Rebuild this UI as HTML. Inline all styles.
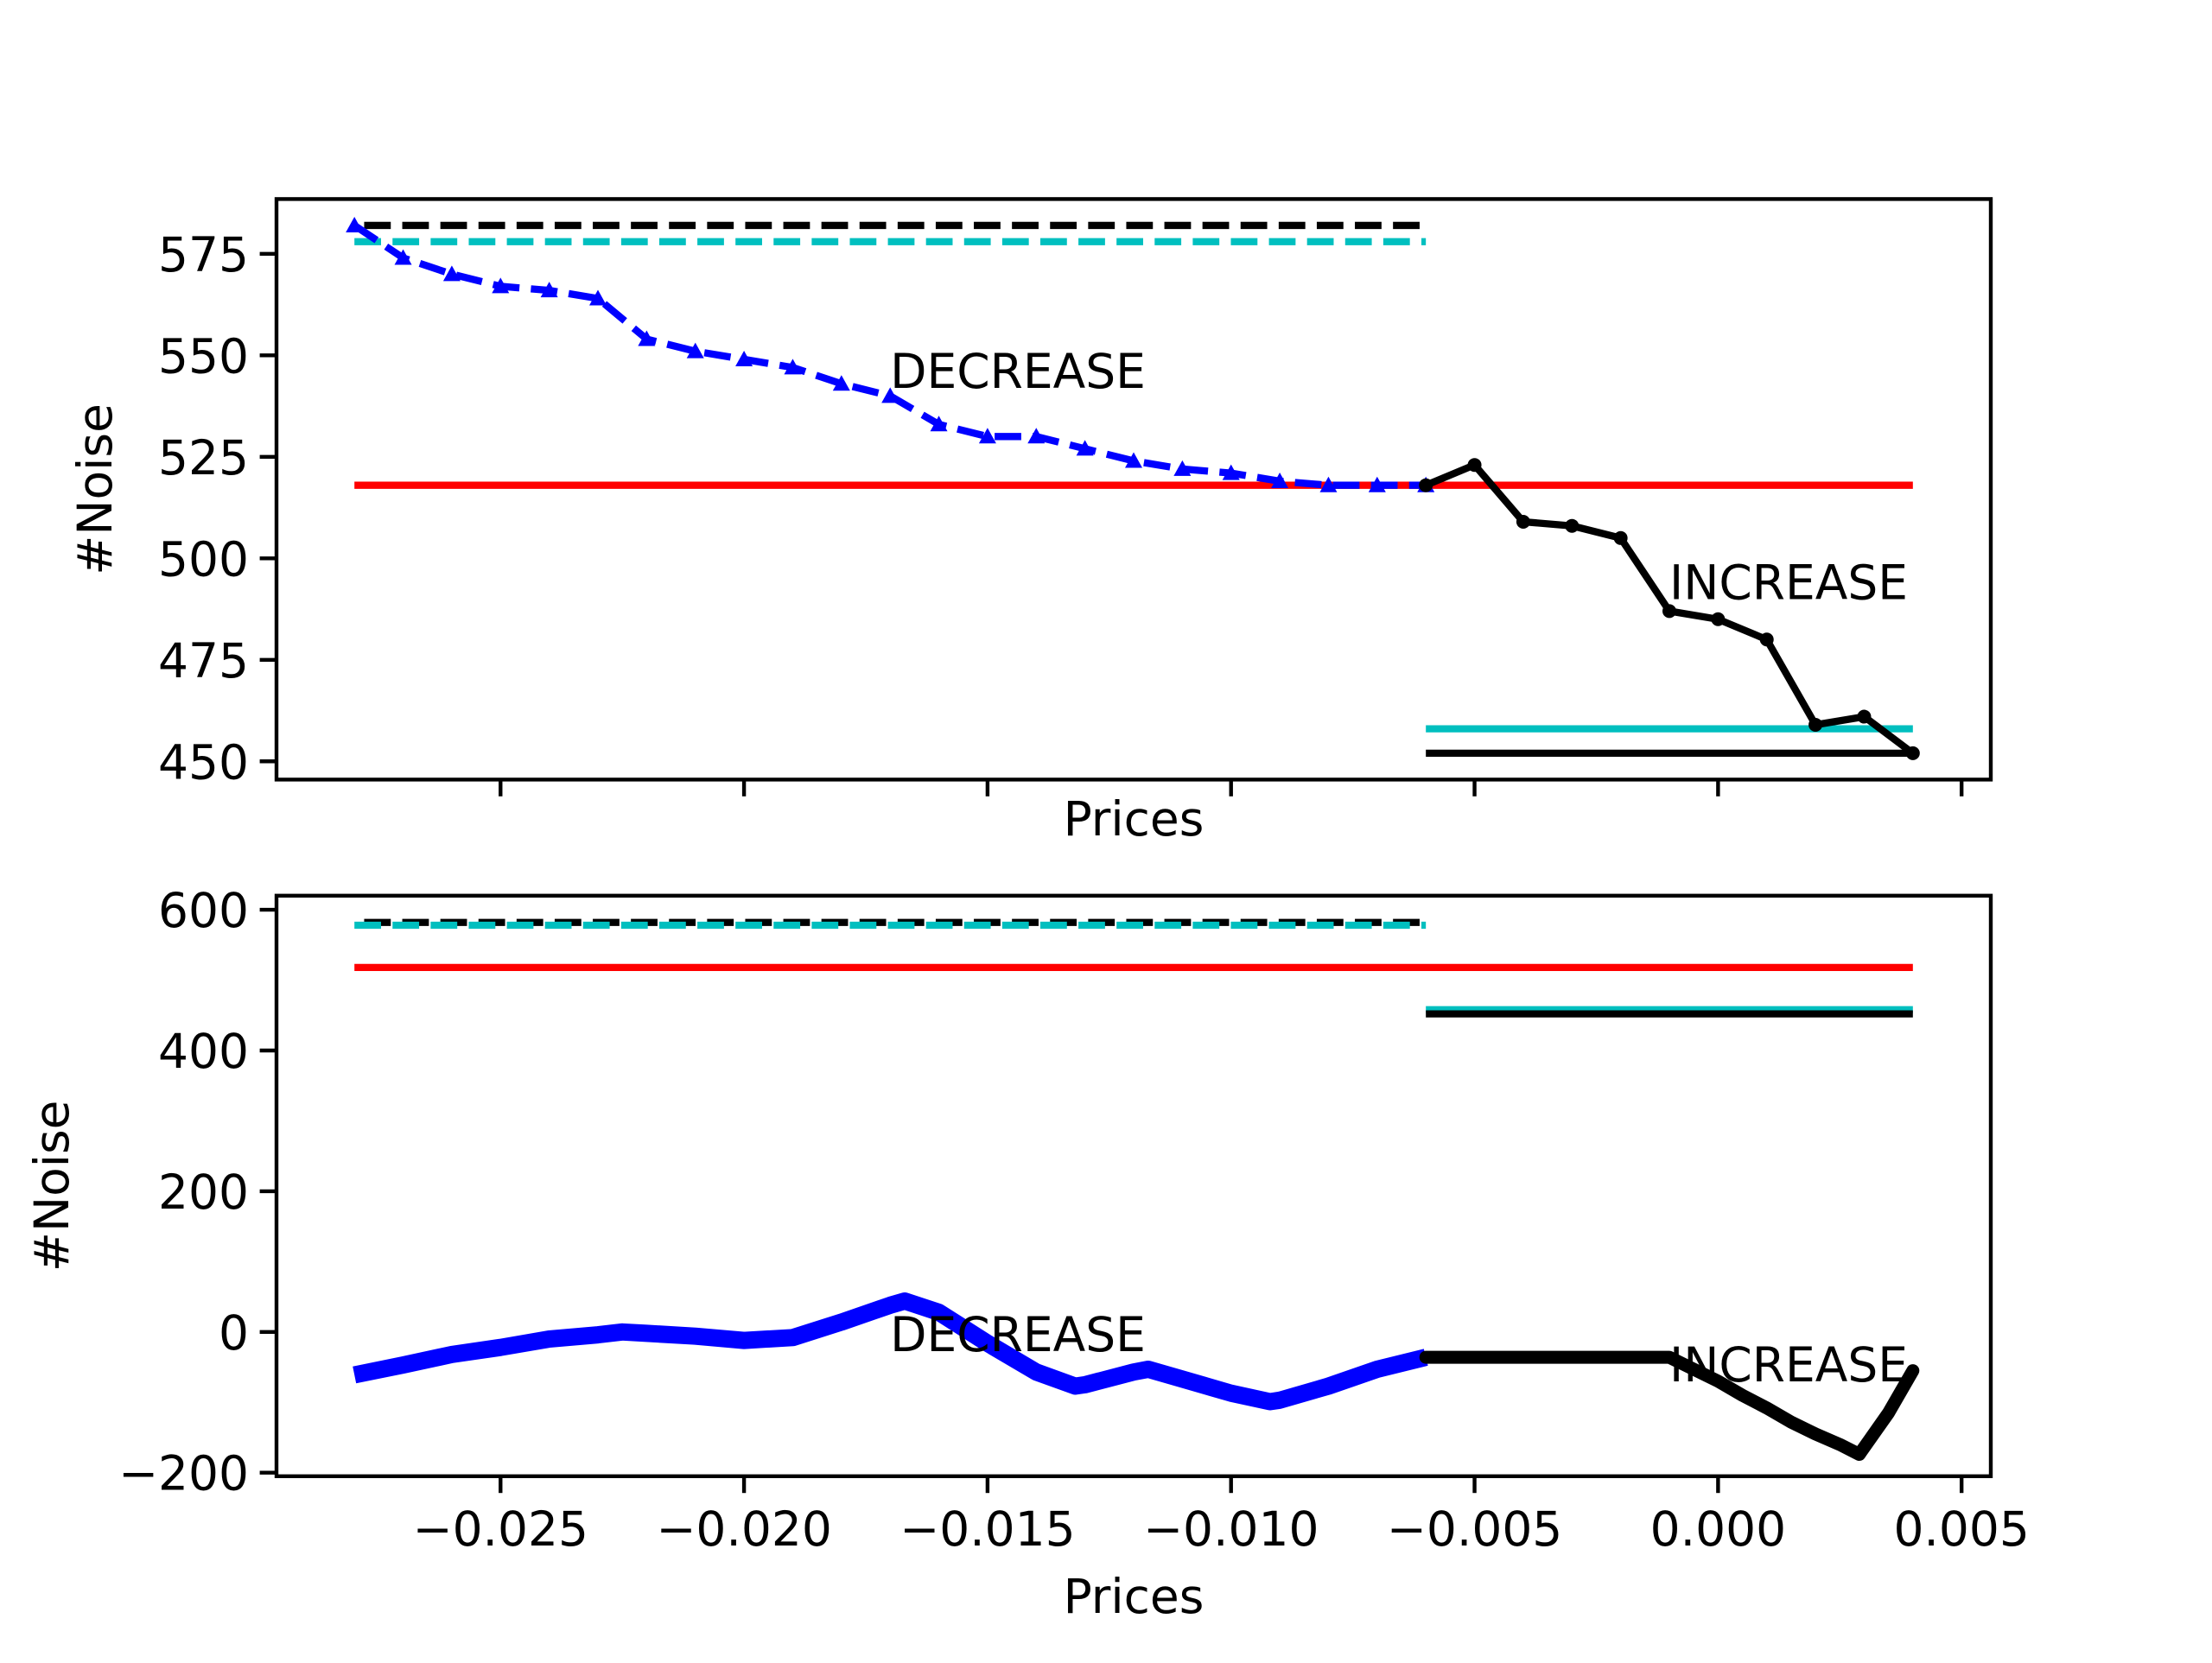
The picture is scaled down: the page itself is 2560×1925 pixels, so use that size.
<!DOCTYPE html>
<html><head><meta charset="utf-8"><style>
html,body{margin:0;padding:0;background:#fff}
svg text{font-family:"DejaVu Sans","Liberation Sans",sans-serif;font-size:55px;fill:#000}
</style></head><body>
<svg id="chart" width="2560" height="1920" viewBox="0 0 2560 1920" xmlns="http://www.w3.org/2000/svg"></svg>
<script>
const decX=[-0.028,-0.027,-0.026,-0.025,-0.024,-0.023,-0.022,-0.021,-0.020,-0.019,-0.018,-0.017,-0.016,-0.015,-0.014,-0.013,-0.012,-0.011,-0.010,-0.009,-0.008,-0.007,-0.006];
const decY=[582,574,570,567,566,564,554,551,549,547,543,540,533,530,530,527,524,522,521,519,518,518,518];
const incX=[-0.006,-0.005,-0.004,-0.003,-0.002,-0.001,0.000,0.001,0.002,0.003,0.004];
const incY=[518,523,509,508,505,487,485,480,459,461,452];
const smDecX=[-0.028,-0.027,-0.026,-0.025,-0.024,-0.023,-0.0225,-0.022,-0.021,-0.020,-0.019,-0.018,-0.017,-0.0167,-0.016,-0.015,-0.014,-0.0132,-0.013,-0.012,-0.0117,-0.011,-0.010,-0.0092,-0.009,-0.008,-0.007,-0.006];
const smDecY=[-61,-47,-32,-22,-10,-4,0,-2,-6,-12,-8,14,38,44,28,-16,-57,-77,-75,-57,-53,-67,-87,-99,-97,-77,-53,-36];
const smIncX=[-0.006,-0.005,-0.004,-0.003,-0.002,-0.001,0.000,0.0005,0.001,0.0015,0.002,0.0025,0.0029,0.0035,0.004];
const smIncY=[-36,-36,-36,-36,-36,-36,-70,-90,-108,-128,-145,-160,-174,-115,-55];
const xTicks=[-0.025,-0.020,-0.015,-0.010,-0.005,0.000,0.005];
const xTickLabels=["\u22120.025","\u22120.020","\u22120.015","\u22120.010","\u22120.005","0.000","0.005"];
const y1Ticks=[450,475,500,525,550,575];
const y2Ticks=[-200,0,200,400,600];
const y2TickLabels=["\u2212200","0","200","400","600"];
const hLines=[ // [value, x0, x1, color, dashed]
 [582,-0.0278,-0.006,"#000",1],[578,-0.028,-0.006,"#00bfbf",1],[518,-0.028,0.004,"#ff0000",0],[458,-0.006,0.004,"#00bfbf",0],[452,-0.006,0.004,"#000",0]];

const NS="http://www.w3.org/2000/svg";
const svg=document.getElementById('chart');
function el(t,a,p){const e=document.createElementNS(NS,t);for(const k in a)e.setAttribute(k,a[k]);(p||svg).appendChild(e);return e;}
const L=320,R=2304,XMIN=-0.0296,XMAX=0.0056;
const sx=v=>L+(v-XMIN)/(XMAX-XMIN)*(R-L);
function mkY(top,bot,lo,hi){return v=>bot-(v-lo)/(hi-lo)*(bot-top);}
const p1={top:230.4,bot:902.4,lo:445.5,hi:588.5};
const p2={top:1036.8,bot:1708.8,lo:-205,hi:620};
const sy1=mkY(p1.top,p1.bot,p1.lo,p1.hi), sy2=mkY(p2.top,p2.bot,p2.lo,p2.hi);

function pts(xs,ys,sy){return xs.map((x,i)=>sx(x).toFixed(1)+','+sy(ys[i]).toFixed(1)).join(' ');}

function panel(sy,name){
  const g=el('g',{});
  
  
  hLines.forEach((h)=>{
    const ln=el('line',{x1:sx(h[1]),x2:sx(h[2]),y1:sy(h[0]),y2:sy(h[0]),stroke:h[3],'stroke-width':8.3,'stroke-dasharray':h[4]?'30.8 13.3':'none'},g);
    
    
  });
  return g;
}
function axes(p,sy,yt,ytl,showX,name,ylabX){
  const g=el('g',{});
  
  
  el('rect',{x:L,y:p.top,width:R-L,height:p.bot-p.top,fill:'none',stroke:'#000','stroke-width':4.4},g);
  xTicks.forEach((t,i)=>{
    const x=sx(t);
    el('line',{x1:x,x2:x,y1:p.bot,y2:p.bot+19.4,stroke:'#000','stroke-width':4.4},g);
    if(showX){const tx=el('text',{x:x,y:p.bot+80,'text-anchor':'middle'},g);tx.textContent=xTickLabels[i];
      }
  });
  yt.forEach((t,i)=>{
    const y=sy(t);
    el('line',{x1:L,x2:L-19.4,y1:y,y2:y,stroke:'#000','stroke-width':4.4},g);
    const tx=el('text',{x:L-32,y:y+20,'text-anchor':'end'},g);tx.textContent=ytl[i];
    
  });
  const xl=el('text',{x:(L+R)/2,y:showX?1867:967,'text-anchor':'middle'},g);xl.textContent='Prices';
  
  const cy=(p.top+p.bot)/2;
  const yl=el('text',{x:ylabX,y:cy,'text-anchor':'middle',transform:`rotate(-90 ${ylabX} ${cy})`},g);yl.textContent='#Noise';
  
}
function label(txt,x,y,sy,name){const t=el('text',{x:sx(x),y:sy(y)});t.textContent=txt;
  }

// Panel 1
panel(sy1,'top-panel');
const d1=el('polyline',{points:pts(decX,decY,sy1),fill:'none',stroke:'#0000ff','stroke-width':8.3,'stroke-dasharray':'30.8 13.3'});

decX.forEach((x,i)=>{const cx=sx(x),cy=sy1(decY[i]),r=10;
  const m=el('polygon',{points:`${cx},${cy-r} ${cx-r},${cy+r*0.8} ${cx+r},${cy+r*0.8}`,fill:'#0000ff'});
  });
const i1=el('polyline',{points:pts(incX,incY,sy1),fill:'none',stroke:'#000','stroke-width':8.3,'stroke-linejoin':'round'});

incX.forEach((x,i)=>{const m=el('circle',{cx:sx(x),cy:sy1(incY[i]),r:8,fill:'#000'});
  });
label('DECREASE',-0.017,542,sy1,'decrease-label');
label('INCREASE',-0.001,490,sy1,'increase-label');
axes(p1,sy1,y1Ticks,y1Ticks.map(String),false,'top',129);

// Panel 2
panel(sy2,'bottom-panel');
const d2=el('polyline',{points:pts(smDecX,smDecY,sy2),fill:'none',stroke:'#0000ff','stroke-width':20,'stroke-linejoin':'round'});

const i2=el('polyline',{points:pts(smIncX,smIncY,sy2),fill:'none',stroke:'#000','stroke-width':15,'stroke-linejoin':'round','stroke-linecap':'round'});

label('DECREASE',-0.017,-27,sy2,'decrease-label-bottom');
label('INCREASE',-0.001,-70,sy2,'increase-label-bottom');
axes(p2,sy2,y2Ticks,y2TickLabels,true,'bottom',79);
</script>
</body></html>
